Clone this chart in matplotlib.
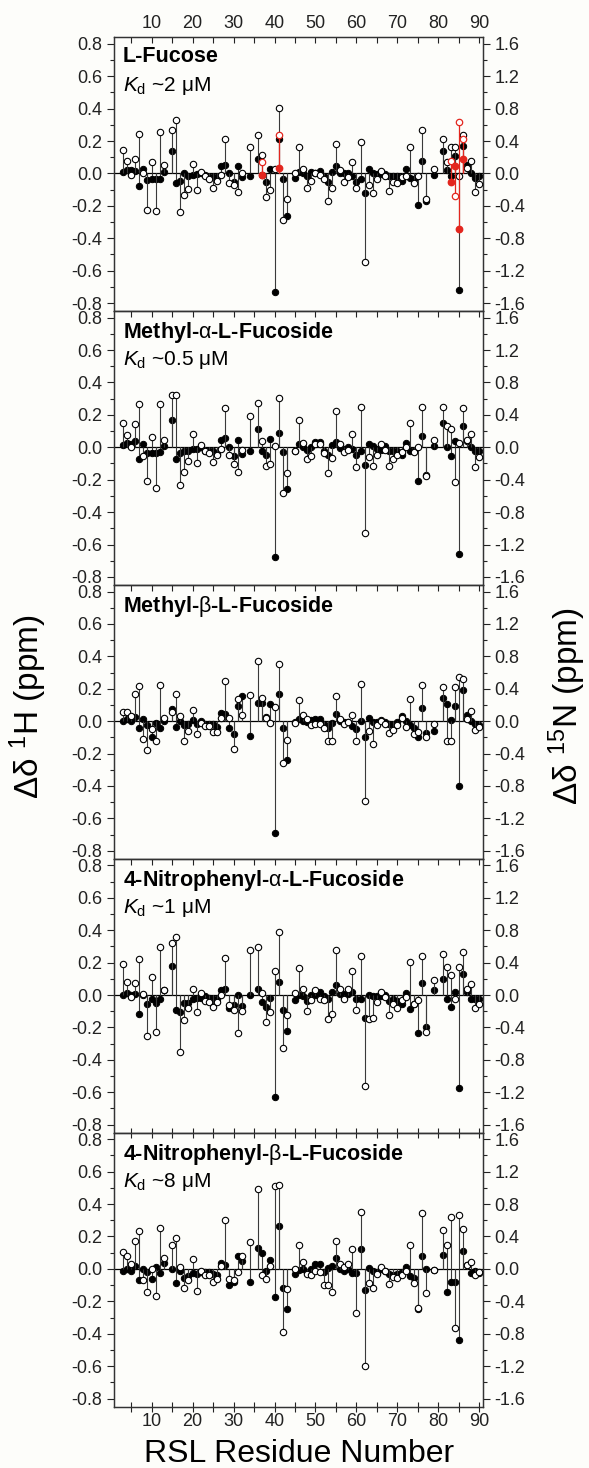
import numpy as np
import matplotlib
matplotlib.use('Agg')
import matplotlib.pyplot as plt
from matplotlib.ticker import MultipleLocator, FormatStrFormatter

plt.rcParams['font.family'] = ['Liberation Sans', 'DejaVu Sans']
plt.rcParams['mathtext.fontset'] = 'custom'
plt.rcParams['mathtext.rm'] = 'Liberation Sans'
plt.rcParams['mathtext.it'] = 'Liberation Sans:italic'
plt.rcParams['mathtext.bf'] = 'Liberation Sans:bold'

# residues with assigned peaks
residues = ([3, 4, 5, 6, 7, 8, 9, 10, 11, 12, 13]
            + list(range(15, 33)) + [34] + list(range(36, 44))
            + list(range(45, 78)) + [79] + list(range(81, 91)))

# ---- L-Fucose ----
h_fuc = ([0.01, 0.02, 0.02, 0.015, -0.075, 0.025, -0.04, -0.037, -0.037, -0.037, 0.01]
         + [0.14, -0.06, -0.047, 0.0, -0.016, -0.01, -0.006, 0.0, -0.01, -0.02, -0.02, -0.02,
            0.045, 0.053, 0.0, -0.05, 0.045, -0.02]
         + [-0.016]
         + [0.086, -0.01, -0.053, 0.03, -0.73, 0.21, -0.037, -0.26]
         + [-0.027, 0.008, 0.0, -0.016, 0.008, 0.0, 0.016, -0.016, -0.053, 0.01, 0.045, 0.0,
            0.0, 0.0, -0.016, -0.05, -0.037, -0.12, 0.025, 0.0, -0.006, -0.006, -0.006, -0.016,
            -0.016, -0.016, -0.047, 0.03, -0.027, -0.037, -0.195, 0.076, -0.17]
         + [-0.01]
         + [0.14, 0.02, -0.016, 0.107, -0.72, 0.17, 0.05, 0.0, -0.027, -0.016])
n_fuc = ([0.29, 0.15, -0.02, 0.18, 0.49, 0.0, -0.45, 0.14, -0.47, 0.51, 0.10]
         + [0.54, 0.66, -0.48, -0.27, -0.19, 0.12, -0.20, 0.016, -0.03, -0.07, -0.18, -0.09,
            -0.02, 0.43, -0.12, -0.14, -0.23, 0.01]
         + [0.33]
         + [0.47, 0.23, -0.29, -0.2, 0.05, 0.81, -0.575, -0.32]
         + [0.0, 0.32, 0.05, -0.18, -0.09, 0.01, -0.02, -0.07, -0.34, -0.18, 0.36, 0.04,
            -0.11, -0.05, 0.14, -0.18, 0.39, -1.09, -0.14, -0.24, -0.07, 0.03, -0.03, -0.22,
            -0.11, -0.12, -0.05, -0.03, 0.32, -0.12, -0.03, 0.54, -0.31]
         + [0.06]
         + [0.42, 0.14, 0.32, 0.32, -0.03, 0.48, 0.07, 0.15, -0.23, -0.13])
# second set of peaks (red) in the L-Fucose spectrum
red_res = [37, 41, 83, 84, 85, 86]
red_h = [-0.012, 0.035, -0.053, 0.045, -0.34, 0.086]
red_n = [0.14, 0.47, 0.15, -0.28, 0.63, 0.42]

# ---- Methyl-alpha-L-Fucoside ----
h_ma = ([0.016, 0.025, 0.02, 0.037, -0.07, 0.023, -0.035, -0.035, -0.035, -0.03, 0.006]
        + [0.17, -0.07, -0.035, -0.025, -0.02, -0.01, -0.01, 0.0, -0.02, -0.025, -0.025, -0.04,
           0.047, 0.06, 0.0, -0.055, 0.043, -0.04]
        + [-0.02]
        + [0.11, -0.02, -0.045, 0.053, -0.68, 0.09, -0.03, -0.26]
        + [-0.02, 0.02, 0.0, -0.015, 0.0, 0.03, 0.03, -0.02, -0.045, 0.016, 0.033, -0.005,
           -0.008, 0.0, -0.008, -0.045, -0.025, -0.11, 0.023, 0.01, -0.008, -0.014, 0.01, -0.02,
           -0.02, -0.02, -0.045, 0.027, -0.025, -0.025, -0.21, 0.07, -0.17]
        + [0.006]
        + [0.15, 0.0, -0.055, 0.04, -0.66, 0.13, 0.037, 0.0, -0.025, -0.02])
n_ma = ([0.30, 0.155, 0.0, 0.29, 0.53, -0.11, -0.42, 0.13, -0.50, 0.54, 0.09]
        + [0.64, 0.64, -0.47, -0.31, -0.17, 0.16, -0.20, 0.03, -0.05, -0.065, -0.18, -0.09,
           -0.02, 0.48, -0.09, -0.21, -0.31, -0.03]
        + [0.38]
        + [0.55, 0.08, -0.23, -0.21, 0.01, 0.61, -0.57, -0.32]
        + [-0.04, 0.34, 0.05, -0.15, -0.11, 0.04, 0.04, -0.07, -0.32, -0.13, 0.45, 0.04,
           -0.06, -0.03, 0.17, -0.24, 0.50, -1.06, -0.12, -0.23, -0.09, 0.04, -0.03, -0.23,
           -0.15, -0.09, -0.06, 0.0, 0.30, -0.06, 0.0, 0.50, -0.36]
        + [0.09]
        + [0.50, 0.26, 0.22, -0.43, 0.05, 0.48, 0.09, 0.17, -0.24, -0.12])

# ---- Methyl-beta-L-Fucoside ----
h_mb = ([0.0, 0.016, 0.0, 0.027, -0.045, 0.016, -0.025, -0.10, -0.01, -0.04, 0.0]
        + [0.078, -0.035, 0.0, -0.025, -0.02, 0.006, -0.015, 0.0, -0.02, -0.015, -0.02, -0.035,
           0.05, 0.047, -0.045, -0.08, 0.094, 0.156]
        + [-0.09]
        + [0.11, 0.113, 0.027, 0.105, -0.69, 0.17, -0.04, -0.24]
        + [-0.004, 0.016, 0.0, -0.004, 0.006, 0.016, 0.016, -0.02, -0.045, -0.01, 0.047, 0.0,
           -0.008, -0.008, -0.03, -0.05, 0.0, -0.10, 0.02, -0.008, -0.008, 0.006, -0.008, -0.02,
           -0.025, -0.008, 0.03, 0.0, -0.025, -0.045, -0.096, 0.08, -0.076]
        + [-0.06]
        + [0.14, 0.105, 0.01, 0.094, -0.40, 0.19, 0.04, 0.0, -0.02, -0.025])
n_mb = ([0.11, 0.11, 0.06, 0.34, 0.43, -0.22, -0.36, -0.10, -0.25, 0.45, 0.04]
        + [0.11, 0.33, 0.06, -0.25, -0.12, 0.135, -0.16, -0.02, -0.06, -0.06, -0.13, -0.14,
           0.04, 0.49, 0.04, -0.34, 0.27, 0.08]
        + [0.32]
        + [0.74, 0.29, 0.04, -0.02, 0.18, 0.70, -0.52, -0.23]
        + [-0.02, 0.26, 0.08, 0.03, -0.05, -0.04, -0.04, -0.08, -0.25, -0.25, 0.31, 0.025,
           -0.04, -0.01, 0.07, -0.25, 0.46, -0.99, -0.12, -0.28, -0.05, 0.0, -0.04, -0.15,
           -0.11, -0.05, 0.04, -0.07, 0.27, -0.16, -0.14, 0.45, -0.20]
        + [-0.04]
        + [0.42, -0.24, -0.24, 0.42, 0.55, 0.525, 0.03, 0.12, -0.11, -0.07])

# ---- 4-Nitrophenyl-alpha-L-Fucoside ----
h_npa = ([0.0, 0.015, 0.0, 0.005, -0.115, 0.0, -0.053, -0.023, -0.047, -0.023, 0.03]
         + [0.18, -0.09, -0.105, -0.047, -0.047, -0.027, -0.016, -0.016, -0.006, -0.016, -0.027,
            -0.027, 0.03, 0.035, -0.078, -0.06, 0.0, -0.068]
         + [0.0]
         + [0.04, -0.043, -0.074, -0.02, -0.63, 0.08, -0.094, -0.225]
         + [-0.03, 0.0, -0.006, -0.037, -0.002, 0.0, 0.02, -0.006, -0.027, 0.02, 0.06, 0.008,
            0.008, 0.008, 0.02, -0.023, -0.023, -0.14, 0.0, -0.006, -0.006, -0.006, 0.0, -0.037,
            -0.027, -0.037, -0.057, 0.015, -0.084, -0.053, -0.236, 0.076, -0.20]
         + [0.03]
         + [0.10, -0.023, -0.072, 0.02, -0.575, 0.127, 0.02, -0.027, -0.027, -0.023])
n_npa = ([0.385, 0.16, -0.03, 0.15, 0.45, 0.016, -0.50, 0.22, -0.46, 0.59, 0.06]
         + [0.64, 0.72, -0.70, -0.31, -0.16, 0.07, -0.21, 0.03, -0.07, -0.08, -0.15, -0.08,
            0.0, 0.46, -0.12, -0.19, -0.47, -0.2]
         + [0.56]
         + [0.59, 0.03, -0.33, -0.21, 0.30, 0.78, -0.66, -0.25]
         + [0.02, 0.33, 0.08, -0.2, -0.06, 0.06, -0.05, -0.06, -0.29, -0.23, 0.55, 0.07,
            -0.045, 0.07, 0.30, -0.19, 0.48, -1.12, -0.29, -0.28, -0.08, 0.04, -0.03, -0.25,
            -0.11, -0.16, -0.06, -0.03, 0.41, -0.11, -0.06, 0.48, -0.46]
         + [0.18]
         + [0.51, 0.35, 0.25, -0.045, 0.34, 0.53, 0.08, 0.14, -0.16, -0.11])

# ---- 4-Nitrophenyl-beta-L-Fucoside ----
h_npb = ([-0.014, 0.0, -0.014, 0.016, -0.07, 0.0, -0.02, -0.065, 0.01, -0.025, 0.037]
         + [0.0, -0.09, -0.01, -0.057, -0.045, -0.025, -0.03, -0.02, -0.02, -0.02, -0.03, -0.04,
            0.037, 0.025, -0.1, -0.08, 0.082, 0.05]
         + [-0.08]
         + [0.127, 0.1, -0.01, 0.057, -0.175, 0.267, -0.117, -0.246]
         + [-0.03, -0.006, 0.0, -0.02, 0.0, 0.03, 0.03, -0.02, 0.006, 0.016, 0.068, 0.0,
            -0.016, 0.0, -0.027, -0.027, 0.123, -0.133, 0.006, -0.01, -0.02, 0.0, -0.01, -0.03,
            -0.037, -0.03, -0.02, 0.01, -0.045, -0.055, -0.25, 0.078, 0.0]
         + [-0.006]
         + [0.086, -0.14, -0.082, -0.078, -0.44, 0.113, 0.027, -0.027, -0.016, -0.027])
n_npb = ([0.205, 0.156, 0.06, 0.35, 0.47, -0.14, -0.29, 0.0, -0.33, 0.51, 0.14]
         + [0.30, 0.38, 0.02, -0.23, -0.14, 0.12, -0.27, -0.03, -0.07, -0.07, -0.16, -0.12,
            0.03, 0.60, -0.12, -0.14, -0.04, 0.156]
         + [0.33]
         + [0.98, -0.07, -0.13, 0.04, 1.02, 1.03, -0.78, -0.25]
         + [0.0, 0.30, 0.09, -0.06, -0.07, -0.02, -0.04, -0.2, -0.2, -0.29, 0.34, 0.06,
            0.02, 0.06, 0.25, -0.55, 0.70, -1.20, -0.17, -0.23, -0.06, 0.02, -0.02, -0.19,
            -0.10, -0.11, -0.08, -0.02, 0.30, -0.18, -0.48, 0.69, -0.30]
         + [-0.01]
         + [0.48, 0.30, 0.64, -0.73, 0.66, 0.49, 0.05, 0.09, -0.08, -0.04])

titles = ['L-Fucose', r'Methyl-$\mathrm{\alpha}$-L-Fucoside', r'Methyl-$\mathrm{\beta}$-L-Fucoside',
          r'4-Nitrophenyl-$\mathrm{\alpha}$-L-Fucoside', r'4-Nitrophenyl-$\mathrm{\beta}$-L-Fucoside']
kd_labels = [r'$K_{\mathrm{d}}$ ~2 $\mathrm{\mu}$M', r'$K_{\mathrm{d}}$ ~0.5 $\mathrm{\mu}$M', None,
             r'$K_{\mathrm{d}}$ ~1 $\mathrm{\mu}$M', r'$K_{\mathrm{d}}$ ~8 $\mathrm{\mu}$M']
h_sets = [h_fuc, h_ma, h_mb, h_npa, h_npb]
n_sets = [n_fuc, n_ma, n_mb, n_npa, n_npb]

for h, n in zip(h_sets, n_sets):
    assert len(h) == len(residues) and len(n) == len(residues), (len(h), len(n))

bg = '#fdfdfa'
stem_col = '#3a3a3a'
red = '#e3261e'
tick_fs = 13

fig = plt.figure(figsize=(5.89, 14.68), dpi=100, facecolor=bg)
axes = fig.subplots(5, 1, sharex=True, gridspec_kw=dict(hspace=0))
fig.subplots_adjust(left=0.194, right=0.8195, top=0.9746, bottom=0.0418)

for i, ax in enumerate(axes):
    ax.set_facecolor(bg)
    ax.set_xlim(0.9, 90.8)
    ax.set_ylim(-0.85, 0.84)
    tw = ax.twinx()
    tw.set_ylim(-1.7, 1.68)

    ax.axhline(0, color='black', lw=0.9, zorder=1)
    ax.vlines(residues, 0, h_sets[i], color=stem_col, lw=0.8, zorder=2)
    tw.vlines(residues, 0, n_sets[i], color=stem_col, lw=0.8, zorder=2)
    ax.plot(residues, h_sets[i], 'o', ms=4.6, mfc='black', mec='black', mew=0.7, zorder=3)
    tw.plot(residues, n_sets[i], 'o', ms=4.6, mfc='white', mec='black', mew=0.8, zorder=3)

    if i == 0:
        # red peaks: 1H on the left scale, 15N on the right scale
        tw.vlines(red_res, 0, red_n, color=red, lw=0.9, zorder=4)
        tw.plot(red_res, red_n, 'o', ms=4.6, mfc='white', mec=red, mew=0.9, zorder=5)
        ax_red = ax.twinx()
        ax_red.set_ylim(ax.get_ylim())
        ax_red.axis('off')
        ax_red.vlines(red_res, 0, red_h, color=red, lw=0.9, zorder=4)
        ax_red.plot(red_res, red_h, 'o', ms=4.6, mfc=red, mec=red, zorder=6)

    # left axis
    ax.yaxis.set_major_locator(MultipleLocator(0.2))
    ax.yaxis.set_minor_locator(MultipleLocator(0.1))
    ax.yaxis.set_major_formatter(FormatStrFormatter('%.1f'))
    ax.tick_params(axis='y', which='both', direction='out', labelsize=tick_fs, colors='#222222')
    ax.tick_params(axis='y', which='major', length=5, width=0.8)
    ax.tick_params(axis='y', which='minor', length=3, width=0.8)
    # right axis
    tw.yaxis.set_major_locator(MultipleLocator(0.4))
    tw.yaxis.set_minor_locator(MultipleLocator(0.2))
    tw.yaxis.set_major_formatter(FormatStrFormatter('%.1f'))
    tw.tick_params(axis='y', which='both', direction='out', labelsize=tick_fs, colors='#222222')
    tw.tick_params(axis='y', which='major', length=5, width=0.8)
    tw.tick_params(axis='y', which='minor', length=3, width=0.8)

    # x axis: ticks on top inside, labels on first panel top and last panel bottom
    ax.xaxis.set_major_locator(MultipleLocator(10))
    ax.xaxis.set_minor_locator(MultipleLocator(5))
    ax.tick_params(axis='x', which='both', top=True, bottom=False, direction='in',
                   labeltop=(i == 0), labelbottom=False, labelsize=tick_fs, length=4, width=0.8,
                   colors='#222222')
    if i == 4:
        ax.tick_params(axis='x', which='both', bottom=True, labelbottom=True)
        ax.tick_params(axis='x', which='both', direction='inout', length=7, pad=1)

    for a in (ax, tw):
        for s in a.spines.values():
            s.set_color('#333333')
            s.set_linewidth(0.9)

    ax.text(0.024, 0.968, titles[i], transform=ax.transAxes, ha='left', va='top',
            fontsize=15.5, fontweight='bold', zorder=10)
    if kd_labels[i]:
        ax.text(0.024, 0.862, kd_labels[i], transform=ax.transAxes, ha='left', va='top',
                fontsize=15, zorder=10)

fig.text(0.048, 0.519, r'Δδ $^{1}$H (ppm)', rotation=90, ha='center', va='center', fontsize=24)
fig.text(0.963, 0.519, r'Δδ $^{15}$N (ppm)', rotation=90, ha='center', va='center', fontsize=24)
fig.text(0.507, 0.004, 'RSL Residue Number', ha='center', va='baseline', fontsize=23)

fig.savefig('out.png', dpi=100, facecolor=bg)
